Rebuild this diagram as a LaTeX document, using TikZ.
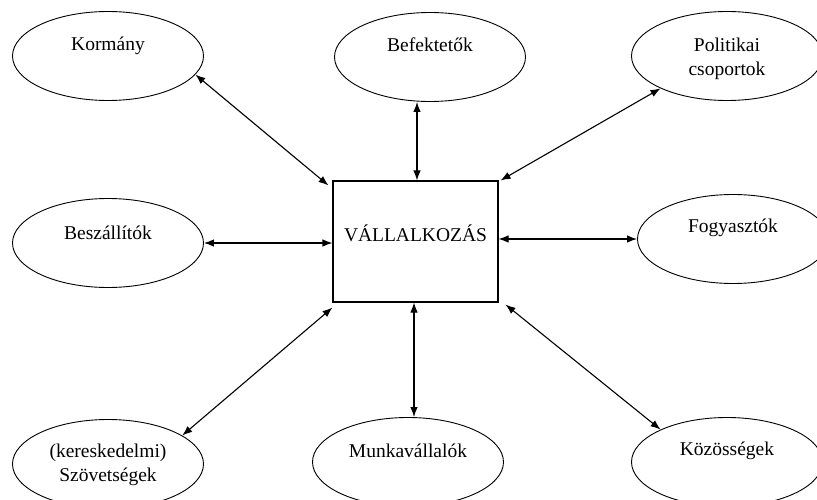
\documentclass[tikz,border=0pt]{standalone}
\usepackage{fontspec}
\setmainfont{Liberation Serif}
\usetikzlibrary{shapes.geometric,arrows.meta}
\begin{document}
\begin{tikzpicture}[x=1pt,y=-1pt,
  ell/.style={draw, ellipse, line width=0.9pt, minimum width=191pt, minimum height=89pt, inner sep=0pt},
  lbl/.style={font=\fontsize{19.5}{24}\selectfont, inner sep=0pt, anchor=base, align=center},
  link/.style={{Latex[length=10pt,width=7.5pt]}-{Latex[length=10pt,width=7.5pt]}, line width=1.1pt}]
\useasboundingbox (0,0) rectangle (817,500);
\clip (0,0) rectangle (817,500);
% stakeholder ellipses
\node[ell] (kor) at (108,56) {};
\node[ell] (bef) at (430,57) {};
\node[ell] (pol) at (727,56) {};
\node[ell] (bes) at (108,243) {};
\node[ell] (fog) at (733,239) {};
\node[ell] (szo) at (108,464) {};
\node[ell] (mun) at (408,462) {};
\node[ell] (koz) at (727,462) {};
% central box
\node[draw, line width=1.1pt, minimum width=165pt, minimum height=121pt, inner sep=0pt] (box) at (415.5,241.5) {};
% labels
\node[lbl, yshift=5pt] (tkor) at (kor.center) {Kormány};
\node[lbl, yshift=5pt] (tbef) at (bef.center) {Befektetők};
\node[lbl, yshift=-20pt] (tpol) at (pol.center) {Politikai\\csoportok};
\node[lbl, yshift=3pt] (tbes) at (bes.center) {Beszállítók};
\node[lbl, yshift=6pt] (tfog) at (fog.center) {Fogyasztók};
\node[lbl, yshift=-17pt] (tszo) at (szo.center) {(kereskedelmi)\\Szövetségek};
\node[lbl, yshift=5pt] (tmun) at (mun.center) {Munkavállalók};
\node[lbl, yshift=7pt] (tkoz) at (koz.center) {Közösségek};
\node[lbl] (tbox) at (box.center) {VÁLLALKOZÁS};
% connectors
\draw[link] (kor.-12) -- ([shift={(-4,5)}]box.north west);
\draw[link] ([xshift=1.5pt]box.north) -- ([xshift=1.5pt]box.north |- bef.south);
\draw[link] (pol.206) -- ([shift={(2,0)}]box.north east);
\draw[link] (bes.east) -- (bes.east -| box.west);
\draw[link] (box.east |- fog.west) -- (fog.west);
\draw[link] (szo.21) -- ([shift={(0,5)}]box.south west);
\draw[link] ([xshift=-1.5pt]box.south) -- ([xshift=-1.5pt]box.south |- mun.north);
\draw[link] (koz.154) -- ([shift={(7,2)}]box.south east);
\end{tikzpicture}
\end{document}
